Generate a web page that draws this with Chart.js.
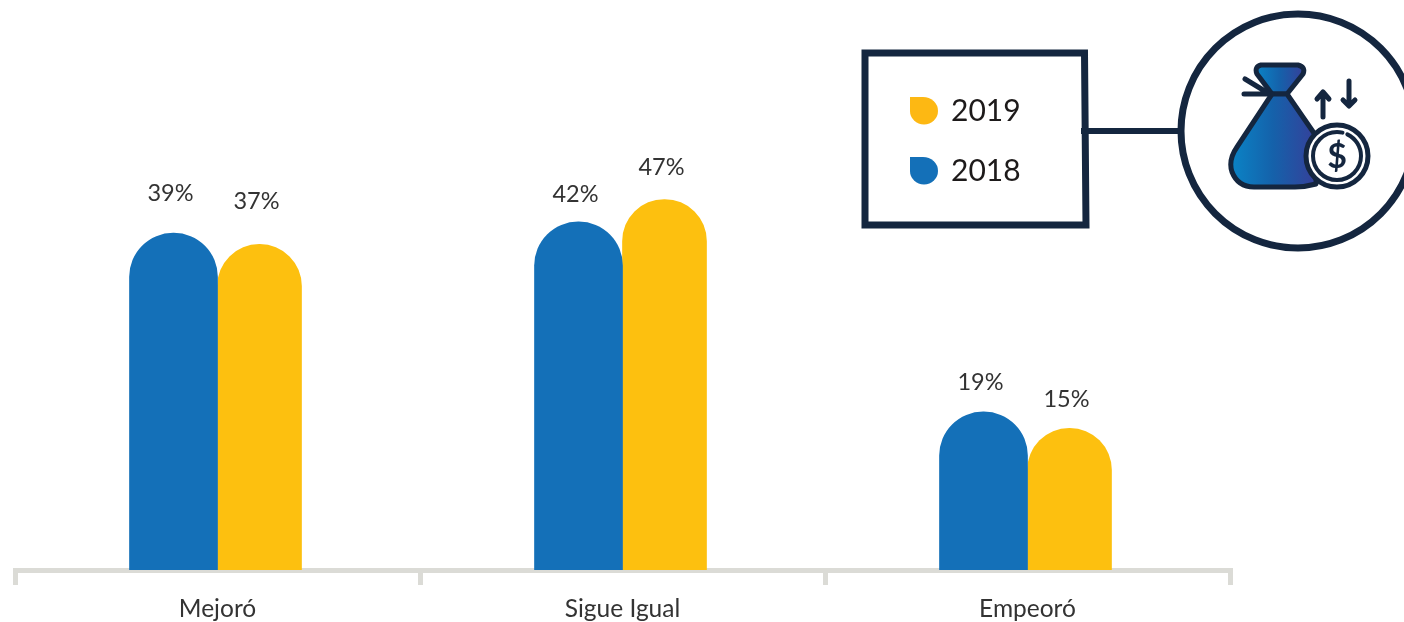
<!DOCTYPE html>
<html lang="es">
<head>
<meta charset="utf-8">
<title>Mejoró, Sigue Igual, Empeoró</title>
<script src="https://cdn.jsdelivr.net/npm/chart.js"></script>
<style>
  html, body { margin: 0; padding: 0; background: #fff; overflow: hidden; }
  #wrap { position: relative; width: 1404px; height: 622px; }
  #wrap svg { position: absolute; left: 0; top: 0; }
</style>
</head>
<body>
<div id="wrap">
  <canvas id="myChart" width="1404" height="622"></canvas>
  <svg width="1404" height="622" viewBox="0 0 1404 622">
    <defs>
      <linearGradient id="bag" x1="0" x2="1" y1="0" y2="0">
        <stop offset="0" stop-color="#0a84c6"/>
        <stop offset="0.5" stop-color="#1561aa"/>
        <stop offset="1" stop-color="#35409a"/>
      </linearGradient>
    </defs>
    <!-- legend box and connector -->
    <path d="M865 53 L1084.5 53 L1086 225 L865 225 Z" fill="#fff" stroke="#14263f" stroke-width="7"/>
    <path d="M1081 131 L1180 131" stroke="#14263f" stroke-width="6"/>
    <path d="M910 97 H923 A15 14 0 0 1 938 111 A14 13.5 0 0 1 910 111 Z" fill="#fdb813"/>
    <path d="M910 157 H923 A15 14 0 0 1 938 171 A14 13.5 0 0 1 910 171 Z" fill="#1470b8"/>
    <text x="951" y="121" font-family="Lato" font-size="30" fill="#1d1a1a">2019</text>
    <text x="951" y="181" font-family="Lato" font-size="30" fill="#1d1a1a">2018</text>
    <!-- money bag icon -->
    <circle cx="1298" cy="131" r="117" fill="#fff" stroke="#14263f" stroke-width="7"/>
    <g stroke="#14263f" stroke-width="5" stroke-linecap="round" stroke-linejoin="round">
      <path d="M1261 65 L1298 65 Q1306 67 1303 74 L1287 94 L1272 94 L1257 74 Q1254 67 1261 65 Z" fill="url(#bag)"/>
      <path d="M1272 94 L1287 94 L1316 136 L1316 184 Q1305 187 1295 187 L1254 187 Q1238 187 1232 172 Q1228 160 1237 147 Z" fill="url(#bag)"/>
      <path d="M1245 79 L1268 93 M1244 94 L1272 94" fill="none"/>
      <path d="M1323 117 L1323 94 M1317 99 L1323 92 L1329 99 M1349 81 L1349 105 M1343 100 L1349 106 L1355 100" fill="none"/>
      <circle cx="1337" cy="156" r="31" fill="#fff"/>
      <circle cx="1337" cy="156" r="24" fill="none" stroke-width="4" stroke-dasharray="118 5 28 0"/>
    </g>
    <text x="1337" y="168" text-anchor="middle" font-family="Lato" font-weight="700" font-size="34" fill="#14263f">$</text>
  </svg>
</div>
<script>
const categories = ['Mejoró', 'Sigue Igual', 'Empeoró'];
const seriesNames = ['2018', '2019'];
// bar lengths as drawn in the picture, they are not quite proportional to the printed labels
const values2018 = [39, 40.3, 18.3];
const values2019 = [37.7, 42.9, 16.4];
const labels2018 = ['39%', '42%', '19%'];
const labels2019 = ['37%', '47%', '15%'];
// gap between the top of the bar and the label
const lift2018 = [28, 16, 18];
const lift2019 = [31, 20, 17];

const valueLabels = {
  id: 'valueLabels',
  afterDatasetsDraw(chart) {
    const ctx = chart.ctx;
    ctx.save();
    ctx.font = '400 23.5px Lato';
    ctx.fillStyle = '#333333';
    ctx.textAlign = 'center';
    ctx.textBaseline = 'bottom';
    const texts = [labels2018, labels2019];
    const lifts = [lift2018, lift2019];
    chart.data.datasets.forEach((ds, i) => {
      chart.getDatasetMeta(i).data.forEach((bar, j) => {
        ctx.fillText(texts[i][j], bar.x - 3, bar.y - lifts[i][j]);
      });
    });
    ctx.restore();
  }
};

new Chart(document.getElementById('myChart'), {
  type: 'bar',
  data: {
    labels: categories,
    datasets: [
      { label: seriesNames[0], data: values2018, backgroundColor: '#1470b8', barThickness: 88,
        borderRadius: { topLeft: 44, topRight: 44 } },
      { label: seriesNames[1], data: values2019, backgroundColor: '#fdc00f', barThickness: 84,
        borderRadius: { topLeft: 42, topRight: 42 } }
    ]
  },
  options: {
    responsive: false,
    animation: false,
    layout: { padding: { left: 15, right: 174, top: 0, bottom: 0 } },
    plugins: { legend: { display: false }, tooltip: { enabled: false } },
    scales: {
      x: {
        afterFit(scale) { scale.height = 52; },
        grid: { offset: true, drawOnChartArea: false, color: '#dbdbd6', lineWidth: 5, tickLength: 15 },
        border: { color: '#dbdbd6', width: 5 },
        ticks: { color: '#333333', font: { family: 'Lato', size: 24.5, weight: '400' }, padding: 9, maxRotation: 0 }
      },
      y: { display: false, min: 0, max: 66 }
    }
  },
  plugins: [valueLabels]
});
</script>
</body>
</html>
